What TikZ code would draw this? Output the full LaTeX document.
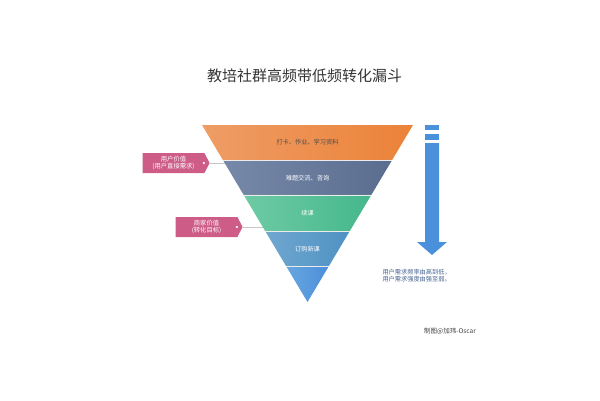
\documentclass[tikz,border=0pt]{standalone}
\usepackage{fontspec}
\setmainfont{Noto Sans CJK SC}
\usetikzlibrary{calc, positioning, shapes.symbols}
\definecolor{orangeL}{HTML}{EE9D66}
\definecolor{orangeR}{HTML}{EC8238}
\definecolor{slateL}{HTML}{7789A9}
\definecolor{slateR}{HTML}{5A6D8F}
\definecolor{greenL}{HTML}{6ECBA4}
\definecolor{greenR}{HTML}{45B78C}
\definecolor{tealL}{HTML}{70A7CF}
\definecolor{tealR}{HTML}{4E92C4}
\definecolor{blueL}{HTML}{68A6E0}
\definecolor{blueR}{HTML}{4A8FDA}
\definecolor{arrowblue}{HTML}{4A90DA}
\definecolor{tagpink}{HTML}{CD5C86}
\definecolor{notetext}{HTML}{45628F}
\newcommand{\tinyrm}{\fontsize{6.2}{7.6}\selectfont}
\tikzset{
  bandtext/.style={text=white, font=\tinyrm},
  tag/.style={signal, signal to=east, signal pointer angle=125, fill=tagpink, text=white,
    minimum width=67pt, minimum height=20pt, inner sep=0pt, align=center,
    font=\fontsize{6.3}{7.8}\selectfont},
  leader/.style={draw=gray!45, line width=0.5pt}
}
\begin{document}
\begin{tikzpicture}[x=1pt, y=-1pt]
        \useasboundingbox (0,0) rectangle (600,400);
        % Title
        \node[text=black!80, font=\fontsize{15}{18}\selectfont] (title) at (304.5,76) {教培社群高频带低频转化漏斗};

        % Funnel corners
        \coordinate (tl) at (202,125);
        \coordinate (tr) at (413,125);
        \coordinate (apex) at (307.5,302);
        \foreach \n/\t in {1/0.198, 2/0.395, 3/0.599, 4/0.797}{
            \coordinate (l\n) at ($(tl)!\t!(apex)$);
            \coordinate (r\n) at ($(tr)!\t!(apex)$);
        }

        % Bands
        \shade[left color=orangeL, right color=orangeR] (tl) -- (tr) -- (r1) -- (l1) -- cycle;
        \shade[left color=slateL, right color=slateR] (l1) -- (r1) -- (r2) -- (l2) -- cycle;
        \shade[left color=greenL, right color=greenR] (l2) -- (r2) -- (r3) -- (l3) -- cycle;
        \shade[left color=tealL, right color=tealR] (l3) -- (r3) -- (r4) -- (l4) -- cycle;
        \shade[left color=blueL, right color=blueR] (l4) -- (r4) -- (apex) -- cycle;
        \foreach \n in {1,...,4}
            \draw[white!85!gray, line width=0.6pt] (l\n) -- (r\n);

        % Band labels
        \node[bandtext, text=black!70] (b1) at (307.5,142) {打卡、作业、学习资料};
        \node[bandtext] (b2) at (307.5,178) {难题交流、咨询};
        \node[bandtext] (b3) at (307.5,213) {续课};
        \node[bandtext] (b4) at (307.5,249) {订购新课};

        % Value tags
        \node[tag] (userv) at (173.5,163) {用户价值\\(用户直接需求)};
        \fill[white] ($(userv.east)+(-6,0)$) circle (1.2);
        \coordinate (fl1) at ($(tl)!0.215!(apex)$);
        \draw[leader] (userv.east) -- (userv.east -| fl1);

        \node[tag] (bizv) at (206.5,227) {商家价值\\(转化目标)};
        \fill[white] ($(bizv.east)+(-6,0)$) circle (1.2);
        \coordinate (fl2) at ($(tl)!0.576!(apex)$);
        \draw[leader] (bizv.east) -- (bizv.east -| fl2);

        % Down arrow
        \fill[arrowblue] (425,125) rectangle (439,129.5);
        \fill[arrowblue] (425,134) rectangle (439,140);
        \fill[arrowblue] (425,143) -- (439,143) -- (439,242) -- (447,242) -- (432,255)
            -- (417,242) -- (425,242) -- cycle;

        % Note
        \node[text=notetext, font=\tinyrm, align=left, anchor=west] (note) at (379,275.5)
            {用户需求频率由高到低，\\用户需求强度由强至弱。};

        % Credit
        \node[text=black!75, font=\fontsize{6.5}{8}\selectfont] (credit) at (450,331) {制图@加玮-Oscar};
\end{tikzpicture}
\end{document}
